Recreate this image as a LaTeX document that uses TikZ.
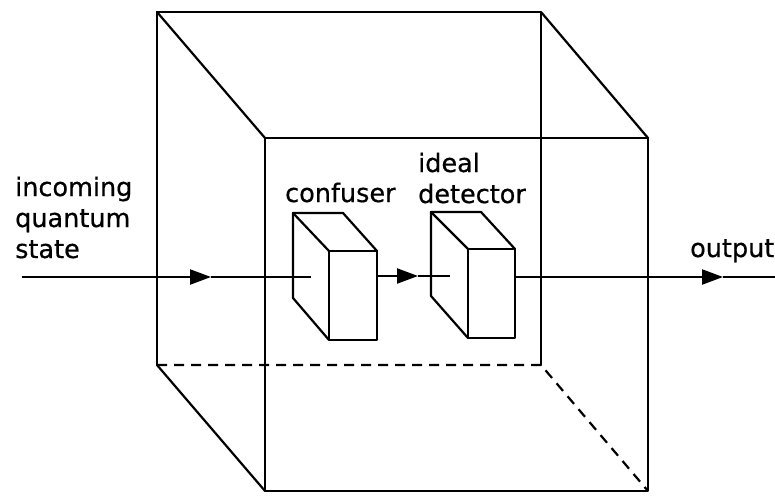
\documentclass[tikz,border=0pt]{standalone}
\usepackage{fontspec}
\setmainfont{DejaVu Sans}
\newfontfamily\lblfont{DejaVu Sans}[FakeBold=0.6]
\usetikzlibrary{arrows.meta}
\begin{document}
\begin{tikzpicture}[x=1pt,y=-1pt,
  edge/.style={line width=2.2pt,line cap=round,line join=round},
  hidden/.style={edge,dash pattern=on 10pt off 7pt,line cap=butt},
  beam/.style={line width=2.2pt},
  tip/.style={beam,-{Triangle[length=21pt,width=15pt]}},
  lbl/.style={anchor=base west,inner sep=0pt,font=\lblfont\fontsize{25.5}{31}\selectfont,align=left}]
\useasboundingbox (0,0) rectangle (775,495);
% big cube corners
\coordinate (b1) at (157,12);
\coordinate (b2) at (541,12);
\coordinate (b3) at (541,365);
\coordinate (b4) at (157,365);
\coordinate (f1) at (265,138);
\coordinate (f2) at (648,138);
\coordinate (f3) at (648,491);
\coordinate (f4) at (265,491);
\draw[edge] (b4) -- (b1) -- (b2) -- (b3);
\draw[hidden] (b4) -- (b3) -- (f3);
\draw[edge] (f1) -- (f2) -- (f3) -- (f4) -- cycle;
\draw[edge] (b1) -- (f1);
\draw[edge] (b2) -- (f2);
\draw[edge] (b4) -- (f4);
% confuser box
\coordinate (c1) at (293,213);
\coordinate (c2) at (343,213);
\coordinate (c3) at (329,251);
\coordinate (c4) at (377,251);
\coordinate (c5) at (377,340);
\coordinate (c6) at (329,340);
\coordinate (c7) at (293,298);
% detector box
\coordinate (d1) at (431,212);
\coordinate (d2) at (481,212);
\coordinate (d3) at (468,249);
\coordinate (d4) at (515,249);
\coordinate (d5) at (515,338);
\coordinate (d6) at (468,338);
\coordinate (d7) at (431,296);
% beam
\coordinate (s0) at (22,277);
\coordinate (a1) at (211,277);
\coordinate (e1) at (311,277);
\coordinate (s2) at (377,276);
\coordinate (a2) at (418,276);
\coordinate (e2) at (450,276);
\coordinate (s3) at (515,277);
\coordinate (a3) at (723,277);
\coordinate (e3) at (775,277);
\draw[tip] (s0) -- (a1);
\draw[beam] (a1) -- (e1);
\draw[tip] (s2) -- (a2);
\draw[beam] (a2) -- (e2);
\draw[tip] (s3) -- (a3);
\draw[beam] (a3) -- (e3);
% boxes drawn with white faces
\filldraw[edge,fill=white] (c3) -- (c4) -- (c5) -- (c6) -- cycle;
\draw[edge] (c7) -- (c1) -- (c2) -- (c4);
\draw[edge] (c1) -- (c3);
\draw[edge] (c7) -- (c6);
\filldraw[edge,fill=white] (d3) -- (d4) -- (d5) -- (d6) -- cycle;
\draw[edge] (d7) -- (d1) -- (d2) -- (d4);
\draw[edge] (d1) -- (d3);
\draw[edge] (d7) -- (d6);
% labels (anchored at the baseline of the last line)
\node[lbl] (tin) at (15,258) {incoming\\quantum\\state};
\node[lbl] (tconf) at (285,202) {confuser};
\node[lbl] (tdet) at (418,203) {ideal\\detector};
\node[lbl] (tout) at (690,257) {output};
\end{tikzpicture}
\end{document}
